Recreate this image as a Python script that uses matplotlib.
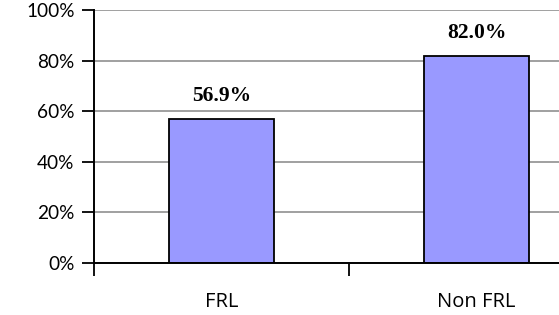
import matplotlib
matplotlib.use("Agg")
import matplotlib.pyplot as plt
from matplotlib.ticker import FixedLocator, PercentFormatter

categorias = ["FRL", "Non FRL"]
valores = [56.9, 82.0]
rotulos = ["56.9%", "82.0%"]

fig = plt.figure(figsize=(5.59, 3.15), dpi=100)
# eixo se estende além da borda direita, como no original
ax = fig.add_axes([94 / 559, 52 / 315, 510 / 559, 253 / 315])

x = list(range(len(categorias)))
ax.bar(x, valores, width=0.41, color="#9999FF", edgecolor="black", linewidth=1.3, zorder=3)

for xi, v, r in zip(x, valores, rotulos):
    ax.text(xi, v + 7, r, ha="center", va="baseline", fontsize=15.5,
            fontweight="bold", family="Liberation Serif")

ax.set_xlim(-0.5, 1.5)
ax.set_ylim(0, 100)
ax.set_yticks(range(0, 101, 20))
ax.yaxis.set_major_formatter(PercentFormatter(decimals=0))
ax.grid(axis="y", color="#a0a0a0", linewidth=1.4, zorder=0)

# marcas do eixo x entre as categorias, rótulos no centro
ax.xaxis.set_major_locator(FixedLocator([-0.5, 0.5, 1.5]))
ax.xaxis.set_minor_locator(FixedLocator(x))
ax.set_xticklabels([])
ax.set_xticklabels(categorias, minor=True, family="Open Sans", fontsize=14.5)
ax.tick_params(axis="x", which="major", length=9, width=1.3, direction="out")
ax.tick_params(axis="x", which="minor", length=0, pad=21)
ax.tick_params(axis="y", length=9, width=1.3, labelsize=13.7, pad=5)
for lbl in ax.get_yticklabels():
    lbl.set_family("Lato")

for s in ["top", "right"]:
    ax.spines[s].set_visible(False)
for s in ["left", "bottom"]:
    ax.spines[s].set_linewidth(1.4)
    ax.spines[s].set_zorder(4)

fig.savefig("out.png", dpi=100)
